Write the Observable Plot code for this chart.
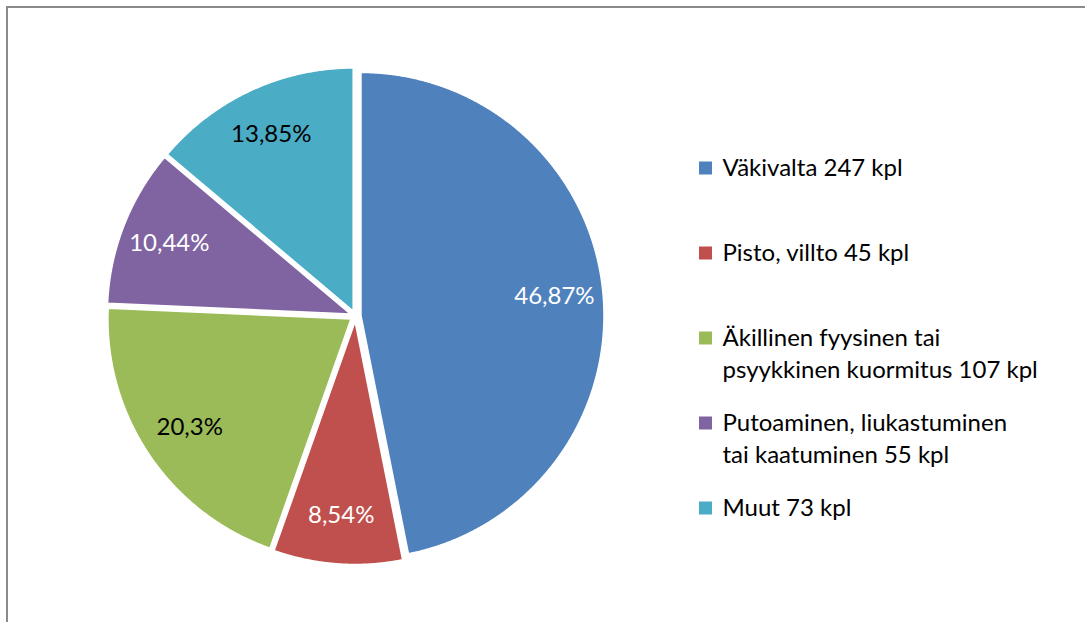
<!DOCTYPE html>
<html><head><meta charset="utf-8">
<script src="https://cdn.jsdelivr.net/npm/d3@7"></script>
<script src="https://cdn.jsdelivr.net/npm/@observablehq/plot@0.6"></script>
<style>
html,body{margin:0;padding:0;background:#fff;}
#wrap{position:relative;width:1085px;height:622px;overflow:hidden;}
#frame{position:absolute;left:6px;top:6px;right:-10px;bottom:-10px;border-top:2px solid #8a8a8a;border-left:2px solid #8a8a8a;pointer-events:none;}
#chart svg{display:block;}
</style></head><body>
<div id="wrap"><div id="chart"></div><div id="frame"></div></div>
<script>
// ---- data ----
const categories = ["Väkivalta", "Pisto, villto", "Äkillinen fyysinen tai psyykkinen kuormitus", "Putoaminen, liukastuminen tai kaatuminen", "Muut"];
const counts = [247, 45, 107, 55, 73];
const legendLines = [["Väkivalta"], ["Pisto, villto"], ["Äkillinen fyysinen tai", "psyykkinen kuormitus"], ["Putoaminen, liukastuminen", "tai kaatuminen"], ["Muut"]];
const unit = "kpl";

// ---- style / layout ----
const colors = ["#4F81BD", "#C0504D", "#9BBB59", "#8064A2", "#4BACC6"];
const darkText = new Set([2, 4]);
const W = 1085, H = 622;
const cx = 355, cy = 315.5, R = 243, explode = 5.5, labelFrac = 0.8;
const legendX = 699, legendSq = 13, legendTextX = 722, legendTop = 168, legendStep = 85, lineStep = 32;
const font = "Lato, 'Open Sans', sans-serif";
const fs = 24;

const total = d3.sum(counts);
const fmt = v => {
  const p = Math.round(v / total * 10000) / 100;
  return String(p).replace(".", ",") + "%";
};

const arcs = d3.pie().sort(null).value(d => d)(counts);
const slicePts = [];
const labels = [];
arcs.forEach((a, i) => {
  const mid = (a.startAngle + a.endAngle) / 2;
  const ox = cx + explode * Math.sin(mid), oy = cy - explode * Math.cos(mid);
  slicePts.push({cat: categories[i], x: ox, y: oy});
  const n = Math.max(2, Math.ceil((a.endAngle - a.startAngle) / 0.005));
  for (let k = 0; k <= n; ++k) {
    const t = a.startAngle + (a.endAngle - a.startAngle) * k / n;
    slicePts.push({cat: categories[i], x: ox + R * Math.sin(t), y: oy - R * Math.cos(t)});
  }
  labels.push({i, text: fmt(counts[i]), x: ox + labelFrac * R * Math.sin(mid), y: oy - labelFrac * R * Math.cos(mid)});
});

const legendSquares = categories.map((c, i) => ({cat: c, y: legendTop + i * legendStep}));
const legendText = [];
legendLines.forEach((lines, i) => {
  lines.forEach((ln, j) => {
    const txt = j === lines.length - 1 ? `${ln} ${counts[i]} ${unit}` : ln;
    legendText.push({text: txt, y: legendTop + i * legendStep + j * lineStep});
  });
});

const chart = Plot.plot({
  width: W, height: H,
  margin: 0,
  style: {fontFamily: font, background: "white", overflow: "visible"},
  x: {domain: [0, W], range: [0, W], axis: null},
  y: {domain: [0, H], range: [0, H], axis: null},
  color: {domain: categories, range: colors},
  marks: [
    Plot.line(slicePts, {x: "x", y: "y", z: "cat", fill: "cat", stroke: "white", strokeWidth: 1.5, curve: "linear-closed"}),
    Plot.text(labels, {filter: d => !darkText.has(d.i), x: "x", y: "y", text: "text", fill: "white", fontSize: fs, textAnchor: "middle"}),
    Plot.text(labels, {filter: d => darkText.has(d.i), x: "x", y: "y", text: "text", fill: "black", fontSize: fs, textAnchor: "middle"}),
    Plot.rect(legendSquares, {x1: () => legendX, x2: () => legendX + legendSq, y1: d => d.y - legendSq / 2, y2: d => d.y + legendSq / 2, fill: "cat"}),
    Plot.text(legendText, {x: () => legendTextX, y: "y", text: "text", fill: "black", fontSize: fs, textAnchor: "start"})
  ]
});
document.getElementById("chart").appendChild(chart);
</script>
</body></html>
